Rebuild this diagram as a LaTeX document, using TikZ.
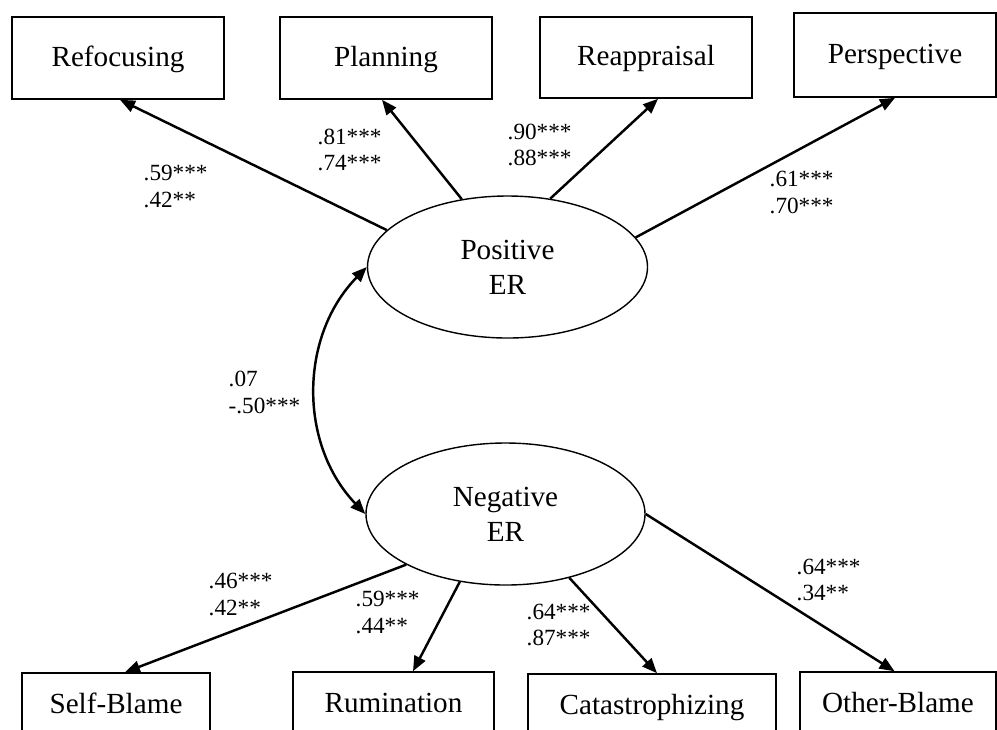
\documentclass[tikz,border=0pt]{standalone}
\usepackage{fontspec}
\setmainfont{Liberation Serif}
\usetikzlibrary{arrows.meta}
\usetikzlibrary{shapes.geometric}

\begin{document}
\begin{tikzpicture}[x=1cm,y=1cm,
    box/.style={draw, line width=0.45pt, inner sep=0pt,
        font=\fontsize{8.3}{10}\selectfont, text height=0.7em, text depth=0.22em},
    latent/.style={draw, ellipse, line width=0.4pt, inner sep=0pt,
        minimum width=2.8cm, minimum height=1.42cm, align=center,
        font=\fontsize{8.3}{10}\selectfont},
    load/.style={-{Triangle[length=0.15cm,width=0.12cm]}, line width=0.7pt},
    coef/.style={anchor=west, inner sep=0pt, align=left,
        font=\fontsize{6.6}{7.5}\selectfont}]

    \useasboundingbox (0,0) rectangle (9.97,7.29);

    % indicators of the positive factor
    \node[box, minimum width=2.12cm, minimum height=0.82cm] (refoc) at (1.18,6.71) {Refocusing};
    \node[box, minimum width=2.12cm, minimum height=0.82cm] (plan) at (3.86,6.71) {Planning};
    \node[box, minimum width=2.12cm, minimum height=0.81cm] (reapp) at (6.46,6.715) {Reappraisal};
    \node[box, minimum width=2.02cm, minimum height=0.84cm] (persp) at (8.95,6.74) {Perspective};

    % latent factors
    \node[latent] (pos) at (5.075,4.62) {Positive\\ER};
    \node[latent, minimum width=2.79cm] (neg) at (5.055,2.15) {Negative\\ER};

    % indicators of the negative factor
    \node[box, minimum width=1.88cm, minimum height=0.64cm] (selfb) at (1.16,0.24) {Self-Blame};
    \node[box, minimum width=2.01cm, minimum height=0.64cm] (rumin) at (3.935,0.25) {Rumination};
    \node[box, minimum width=2.48cm, minimum height=0.64cm] (catas) at (6.52,0.23) {Catastrophizing};
    \node[box, minimum width=1.96cm, minimum height=0.64cm] (otherb) at (8.98,0.25) {Other-Blame};

    \draw[load] (pos.163) -- ([xshift=0.02cm]refoc.south);
    \draw[load] (pos.124) -- ([xshift=-0.04cm]plan.south);
    \draw[load] (pos.58) -- ([xshift=0.12cm]reapp.south);
    \draw[load] (pos.13) -- (persp.south);

    \draw[load] (neg.207) -- ([xshift=0.09cm]selfb.north);
    \draw[load] (neg.236) -- ([xshift=0.195cm]rumin.north);
    \draw[load] (neg.315) -- ([xshift=0.05cm]catas.north);
    \draw[load] (neg.0) -- ([xshift=-0.035cm]otherb.north);

    % factor correlation
    \draw[{Triangle[length=0.15cm,width=0.12cm]}-{Triangle[length=0.15cm,width=0.12cm]}, line width=0.7pt]
        (pos.west) to[bend right=44] (neg.west);

    \node[coef] (c1) at (1.43,5.425) {.59***\\.42**};
    \node[coef] (c2) at (3.17,5.79) {.81***\\.74***};
    \node[coef] (c3) at (5.07,5.84) {.90***\\.88***};
    \node[coef] (c4) at (7.69,5.365) {.61***\\.70***};
    \node[coef] (c5) at (2.28,3.365) {.07\\-.50***};
    \node[coef] (c6) at (2.08,1.345) {.46***\\.42**};
    \node[coef] (c7) at (3.55,1.165) {.59***\\.44**};
    \node[coef] (c8) at (5.26,1.04) {.64***\\.87***};
    \node[coef] (c9) at (7.96,1.49) {.64***\\.34**};
\end{tikzpicture}
\end{document}
